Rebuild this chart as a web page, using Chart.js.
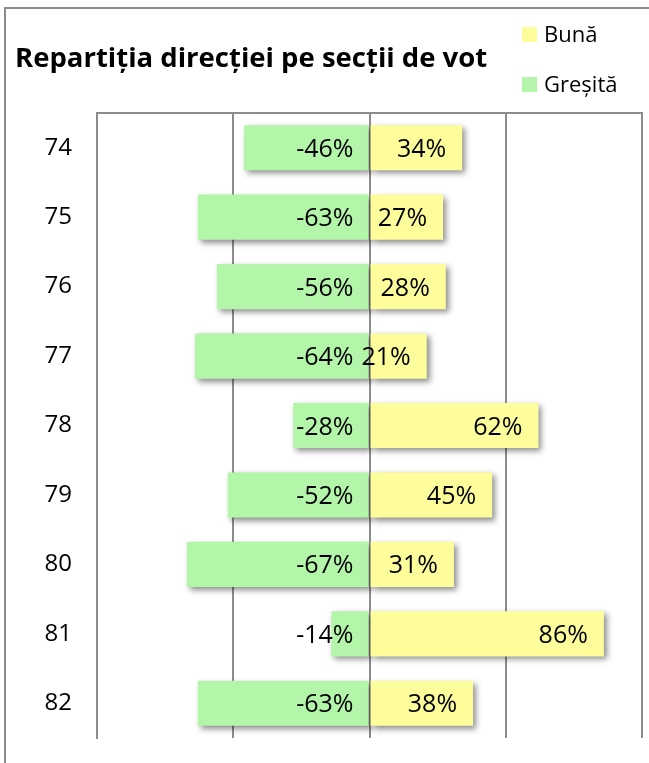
<!DOCTYPE html>
<html>
<head>
<meta charset="utf-8">
<script src="https://cdn.jsdelivr.net/npm/chart.js@4"></script>
<style>
    html, body { margin: 0; padding: 0; background: #ffffff; }
    #wrap { position: relative; width: 649px; height: 763px; }
</style>
</head>
<body>
<div id="wrap"><canvas id="chart" width="649" height="763"></canvas></div>
<script>
// Repartiția direcției pe secții de vot
const sectii = ['74', '75', '76', '77', '78', '79', '80', '81', '82'];
const buna = [34, 27, 28, 21, 62, 45, 31, 86, 38];
const gresita = [-46, -63, -56, -64, -28, -52, -67, -14, -63];
const axisTicks = [-100, -50, 0, 50, 100];

const titleText = 'Repartiția direcției pe secții de vot';
const legendLabels = ['Bună', 'Greșită'];

const colors = {
    yellow: '#fefd9b',
    green: '#b4f6a9',
    grid: '#8c8c8c',
    text: '#000000'
};
const fontFamily = '"Open Sans", "Noto Sans", sans-serif';

// cadru, titlu, legendă și etichete
const decorPlugin = {
    id: 'decor',
    beforeDraw(chart) {
        const ctx = chart.ctx;
        ctx.save();
        ctx.strokeStyle = colors.grid;
        ctx.lineWidth = 2;
        ctx.beginPath();
        ctx.moveTo(5, 763);
        ctx.lineTo(5, 8);
        ctx.lineTo(649, 8);
        ctx.stroke();

        ctx.fillStyle = colors.text;
        ctx.font = 'bold 27.5px ' + fontFamily;
        ctx.textBaseline = 'alphabetic';
        ctx.textAlign = 'left';
        ctx.fillText(titleText, 15, 67);

        ctx.font = '22px ' + fontFamily;
        ctx.fillStyle = colors.yellow;
        ctx.fillRect(522, 27, 15, 15);
        ctx.fillStyle = colors.green;
        ctx.fillRect(522, 77, 15, 15);
        ctx.fillStyle = colors.text;
        ctx.fillText(legendLabels[0], 544, 42);
        ctx.fillText(legendLabels[1], 544, 92);
        ctx.restore();
    },
    afterDatasetsDraw(chart) {
        const ctx = chart.ctx;
        const x = chart.scales.x;
        const zero = x.getPixelForValue(0);
        ctx.save();
        ctx.font = '25px ' + fontFamily;
        ctx.fillStyle = colors.text;
        ctx.textAlign = 'right';
        ctx.textBaseline = 'alphabetic';
        chart.getDatasetMeta(1).data.forEach((bar, i) => {
            ctx.fillText(gresita[i] + '%', zero - 16, bar.y + 9);
        });
        chart.getDatasetMeta(0).data.forEach((bar, i) => {
            ctx.fillText(buna[i] + '%', bar.x - 16, bar.y + 9);
        });
        ctx.restore();
    }
};

const shadowPlugin = {
    id: 'barShadow',
    beforeDatasetsDraw(chart) {
        const ctx = chart.ctx;
        ctx.save();
        ctx.shadowColor = 'rgba(0,0,0,0.45)';
        ctx.shadowBlur = 6;
        ctx.shadowOffsetX = 3;
        ctx.shadowOffsetY = 3;
    },
    afterDatasetsDraw(chart) {
        chart.ctx.restore();
    }
};

new Chart(document.getElementById('chart'), {
    type: 'bar',
    data: {
        labels: sectii,
        datasets: [
            {
                label: legendLabels[0],
                data: buna,
                backgroundColor: colors.yellow,
                borderWidth: 0,
                barPercentage: 0.65,
                categoryPercentage: 1
            },
            {
                label: legendLabels[1],
                data: gresita,
                backgroundColor: colors.green,
                borderWidth: 0,
                barPercentage: 0.65,
                categoryPercentage: 1
            }
        ]
    },
    options: {
        indexAxis: 'y',
        responsive: false,
        animation: false,
        layout: {
            padding: { left: 0, right: 7, top: 113, bottom: 25 }
        },
        plugins: {
            legend: { display: false },
            title: { display: false },
            tooltip: { enabled: false }
        },
        scales: {
            x: {
                position: 'top',
                stacked: true,
                min: axisTicks[0],
                max: axisTicks[axisTicks.length - 1],
                afterBuildTicks(scale) {
                    scale.ticks = axisTicks.map(v => ({ value: v }));
                },
                afterFit(scale) {
                    scale.height = 0;
                },
                ticks: { display: false },
                grid: {
                    color: colors.grid,
                    lineWidth: 2,
                    drawTicks: false
                },
                border: { display: true, color: colors.grid, width: 2 }
            },
            y: {
                stacked: true,
                afterFit(scale) {
                    scale.width = 97;
                    scale.paddingTop = 0;
                    scale.paddingBottom = 0;
                },
                ticks: {
                    color: colors.text,
                    font: { size: 24, family: fontFamily },
                    padding: 25
                },
                grid: { display: false, drawTicks: false },
                border: { display: true, color: colors.grid, width: 2 }
            }
        }
    },
    plugins: [shadowPlugin, decorPlugin]
});
</script>
</body>
</html>
